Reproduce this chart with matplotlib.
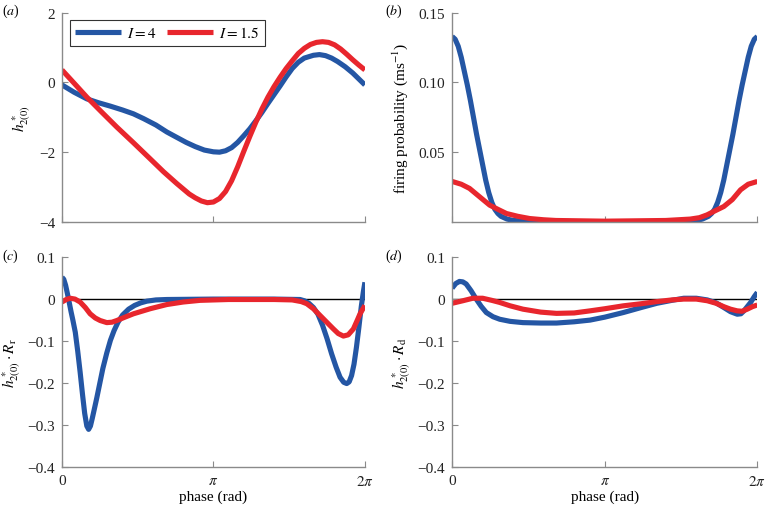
import numpy as np
import matplotlib
matplotlib.use("Agg")
import matplotlib.pyplot as plt

plt.rcParams['font.family'] = 'serif'
plt.rcParams['font.serif'] = ['Liberation Serif', 'DejaVu Serif']
plt.rcParams['mathtext.fontset'] = 'stix'
plt.rcParams['axes.unicode_minus'] = True

BLUE = '#2456a4'
RED = '#e8262d'

# phase as a fraction of a full cycle (multiplied by 2*pi below)
# panel (a): h*_2(0)
a_blue_x = [0, 0.04, 0.082, 0.12, 0.16, 0.2, 0.236, 0.27, 0.31, 0.346, 0.38, 0.41, 0.44, 0.47, 0.50, 0.52,
            0.54, 0.56, 0.58, 0.60, 0.62, 0.64, 0.66, 0.68, 0.70, 0.72, 0.74, 0.76, 0.78, 0.80, 0.83, 0.85,
            0.87, 0.89, 0.91, 0.935, 0.96, 0.98, 1.0]
a_blue_y = [-0.07, -0.28, -0.47, -0.58, -0.68, -0.79, -0.9, -1.04, -1.22, -1.42, -1.58, -1.72, -1.84, -1.94, -1.99, -2.0,
            -1.96, -1.87, -1.72, -1.53, -1.33, -1.1, -0.86, -0.6, -0.35, -0.1, 0.16, 0.4, 0.58, 0.70, 0.78, 0.80,
            0.77, 0.70, 0.60, 0.45, 0.27, 0.10, -0.07]
a_red_x = [0, 0.04, 0.082, 0.13, 0.181, 0.236, 0.291, 0.335, 0.379, 0.42, 0.44, 0.46, 0.48, 0.50, 0.52,
           0.54, 0.56, 0.58, 0.60, 0.62, 0.64, 0.66, 0.68, 0.70, 0.72, 0.74, 0.76, 0.78, 0.80, 0.82, 0.84,
           0.86, 0.88, 0.90, 0.92, 0.94, 0.96, 0.98, 1.0]
a_red_y = [0.36, -0.02, -0.42, -0.84, -1.28, -1.73, -2.19, -2.56, -2.9, -3.2, -3.31, -3.40, -3.45, -3.43, -3.33,
           -3.13, -2.82, -2.42, -1.98, -1.55, -1.14, -0.76, -0.42, -0.12, 0.15, 0.40, 0.62, 0.83, 0.98, 1.09, 1.15,
           1.17, 1.15, 1.08, 0.96, 0.81, 0.65, 0.50, 0.36]

# panel (b): firing probability
b_blue_x = [0, 0.01, 0.02, 0.03, 0.04, 0.05, 0.06, 0.07, 0.08, 0.09, 0.10, 0.11, 0.12, 0.13, 0.14, 0.15,
            0.16, 0.18, 0.2, 0.3, 0.5, 0.7, 0.8, 0.82, 0.84, 0.85, 0.86, 0.87, 0.88, 0.89, 0.90, 0.91, 0.92,
            0.93, 0.94, 0.95, 0.96, 0.97, 0.98, 0.99, 1.0]
b_blue_y = [0.133, 0.131, 0.126, 0.118, 0.108, 0.098, 0.087, 0.075, 0.063, 0.052, 0.041, 0.030, 0.021, 0.014, 0.009, 0.006,
            0.004, 0.002, 0.001, 0.0, 0.0, 0.0, 0.001, 0.002, 0.004, 0.006, 0.009, 0.014, 0.021, 0.030, 0.041, 0.052, 0.063,
            0.075, 0.087, 0.098, 0.108, 0.118, 0.126, 0.131, 0.133]
b_red_x = [0, 0.03, 0.057, 0.09, 0.123, 0.15, 0.178, 0.215, 0.254, 0.3, 0.34, 0.5, 0.7, 0.78, 0.81,
           0.835, 0.862, 0.89, 0.918, 0.945, 0.97, 1.0]
b_red_y = [0.029, 0.027, 0.024, 0.018, 0.012, 0.009, 0.006, 0.004, 0.0024, 0.0015, 0.001, 0.0005, 0.001, 0.002, 0.003,
           0.005, 0.008, 0.011, 0.016, 0.023, 0.027, 0.029]

# panel (c): h*_2(0) . R_r
c_blue_x = [0, 0.006, 0.012, 0.018, 0.024, 0.03, 0.036, 0.044, 0.052, 0.06, 0.068, 0.075, 0.082, 0.088,
            0.094, 0.1, 0.108, 0.115, 0.125, 0.135, 0.148, 0.16, 0.172, 0.185, 0.2, 0.22, 0.24, 0.26, 0.28,
            0.31, 0.346, 0.5, 0.7, 0.786, 0.80, 0.815, 0.83, 0.845, 0.86, 0.875, 0.89, 0.905, 0.918, 0.93,
            0.94, 0.948, 0.956, 0.964, 0.972, 0.98, 0.988, 0.995, 1.0]
c_blue_y = [0.052, 0.047, 0.033, 0.013, -0.008, -0.03, -0.05, -0.079, -0.124, -0.174, -0.228, -0.272, -0.302, -0.31,
            -0.302, -0.284, -0.258, -0.235, -0.2, -0.165, -0.128, -0.098, -0.075, -0.055, -0.038, -0.024, -0.015, -0.009, -0.005,
            -0.002, -0.001, 0.0, 0.0, -0.001, -0.004, -0.01, -0.02, -0.036, -0.062, -0.094, -0.13, -0.162, -0.186, -0.198,
            -0.201, -0.197, -0.182, -0.155, -0.115, -0.068, -0.018, 0.018, 0.04]
c_red_x = [0, 0.014, 0.027, 0.043, 0.06, 0.077, 0.093, 0.11, 0.126, 0.148, 0.165, 0.181, 0.208, 0.236, 0.291,
           0.346, 0.4, 0.456, 0.55, 0.7, 0.76, 0.79, 0.808, 0.83, 0.852, 0.874, 0.896, 0.912, 0.929, 0.945,
           0.962, 0.975, 0.984, 1.0]
c_red_y = [-0.007, -0.001, 0.002, 0.0, -0.007, -0.02, -0.035, -0.045, -0.051, -0.056, -0.055, -0.051, -0.043, -0.035, -0.023,
           -0.013, -0.007, -0.003, -0.001, -0.001, -0.002, -0.006, -0.011, -0.023, -0.039, -0.055, -0.071, -0.082, -0.088, -0.085,
           -0.071, -0.05, -0.035, -0.015]

# panel (d): h*_2(0) . R_d
d_blue_x = [0, 0.012, 0.024, 0.035, 0.046, 0.062, 0.079, 0.095, 0.112, 0.134, 0.156, 0.19, 0.232, 0.29,
            0.342, 0.4, 0.452, 0.5, 0.561, 0.62, 0.671, 0.72, 0.759, 0.8, 0.836, 0.865, 0.89, 0.912, 0.934,
            0.946, 0.956, 0.967, 0.978, 0.99, 1.0]
d_blue_y = [0.026, 0.037, 0.042, 0.041, 0.036, 0.02, 0.0, -0.017, -0.032, -0.042, -0.048, -0.053, -0.056, -0.057,
            -0.057, -0.054, -0.05, -0.043, -0.032, -0.02, -0.01, -0.003, 0.002, 0.002, -0.002, -0.009, -0.02, -0.03, -0.036,
            -0.035, -0.028, -0.018, -0.008, 0.006, 0.016]
d_red_x = [0, 0.035, 0.068, 0.1, 0.13, 0.156, 0.19, 0.232, 0.29, 0.342, 0.4, 0.452, 0.5, 0.561, 0.62,
           0.671, 0.72, 0.759, 0.8, 0.836, 0.865, 0.89, 0.912, 0.934, 0.95, 0.967, 0.984, 1.0]
d_red_y = [-0.01, -0.004, 0.002, 0.002, -0.003, -0.008, -0.016, -0.024, -0.031, -0.034, -0.033, -0.028, -0.023, -0.016, -0.011,
           -0.006, -0.002, 0.0, 0.0, -0.004, -0.01, -0.018, -0.024, -0.028, -0.029, -0.024, -0.018, -0.014]

labels = ['$I = 4$', '$I = 1.5$']
xticks = [0, np.pi, 2 * np.pi]
xticklabels = ['0', r'$\pi$', r'$2\pi$']

fig = plt.figure(figsize=(7.65, 5.1), dpi=100)
ax_a = fig.add_axes([0.081, 0.563, 0.396, 0.410])
ax_b = fig.add_axes([0.591, 0.563, 0.399, 0.410])
ax_c = fig.add_axes([0.081, 0.082, 0.396, 0.412])
ax_d = fig.add_axes([0.591, 0.082, 0.399, 0.412])

def two(x):
    return np.array(x) * 2 * np.pi

lw = 3.7
kw = dict(lw=lw, solid_capstyle='butt', solid_joinstyle='round')
ax_a.plot(two(a_blue_x), a_blue_y, color=BLUE, label=labels[0], **kw)
ax_a.plot(two(a_red_x), a_red_y, color=RED, label=labels[1], **kw)
ax_b.plot(two(b_blue_x), b_blue_y, color=BLUE, **kw)
ax_b.plot(two(b_red_x), b_red_y, color=RED, **kw)
for ax in (ax_c, ax_d):
    ax.axhline(0, color='black', lw=1, zorder=1)
ax_c.plot(two(c_blue_x), c_blue_y, color=BLUE, **kw)
ax_c.plot(two(c_red_x), c_red_y, color=RED, **kw)
ax_d.plot(two(d_blue_x), d_blue_y, color=BLUE, **kw)
ax_d.plot(two(d_red_x), d_red_y, color=RED, **kw)

fs = 11
for ax in (ax_a, ax_b, ax_c, ax_d):
    ax.set_xlim(0, 2 * np.pi)
    ax.set_xticks(xticks)
    for s in ('top', 'right'):
        ax.spines[s].set_visible(False)
    for s in ('left', 'bottom'):
        ax.spines[s].set_color('#8a8a8a')
        ax.spines[s].set_linewidth(1.0)
    ax.tick_params(direction='in', length=4, color='#8a8a8a', labelsize=fs, labelcolor='#222222', pad=5)

ax_a.set_ylim(-4, 2)
ax_a.set_yticks([-4, -2, 0, 2])
ax_a.set_xticklabels([])
ax_a.set_ylabel(r'$h^*_{2(0)}$', fontsize=fs, labelpad=4)
leg = ax_a.legend(loc='upper left', ncol=2, bbox_to_anchor=(0.026, 0.965), fontsize=fs,
                  frameon=True, fancybox=False, edgecolor='black', handlelength=3.0,
                  columnspacing=0.7, handletextpad=0.4, borderpad=0.35, borderaxespad=0)
leg.get_frame().set_linewidth(0.8)

ax_b.set_ylim(0, 0.15)
ax_b.set_yticks([0.05, 0.10, 0.15])
ax_b.set_yticklabels(['0.05', '0.10', '0.15'])
ax_b.set_xticklabels([])
ax_b.set_ylabel(r'firing probability (ms$^{-1}$)', fontsize=fs, labelpad=6)

for ax, lab in ((ax_c, r'$h^*_{2(0)}\cdot R_\mathrm{r}$'), (ax_d, r'$h^*_{2(0)}\cdot R_\mathrm{d}$')):
    ax.set_ylim(-0.4, 0.1)
    ax.set_yticks([-0.4, -0.3, -0.2, -0.1, 0, 0.1])
    ax.set_yticklabels(['\u22120.4', '\u22120.3', '\u22120.2', '\u22120.1', '0', '0.1'])
    ax.set_xticklabels(xticklabels)
    ax.set_xlabel('phase (rad)', fontsize=fs, labelpad=1)
    ax.set_ylabel(lab, fontsize=fs, labelpad=3)

fig.text(0.002, 0.977, '($a$)', fontsize=10, va='center')
fig.text(0.503, 0.977, '($b$)', fontsize=10, va='center')
fig.text(0.002, 0.497, '($c$)', fontsize=10, va='center')
fig.text(0.503, 0.497, '($d$)', fontsize=10, va='center')

fig.savefig('out.png', dpi=100)
